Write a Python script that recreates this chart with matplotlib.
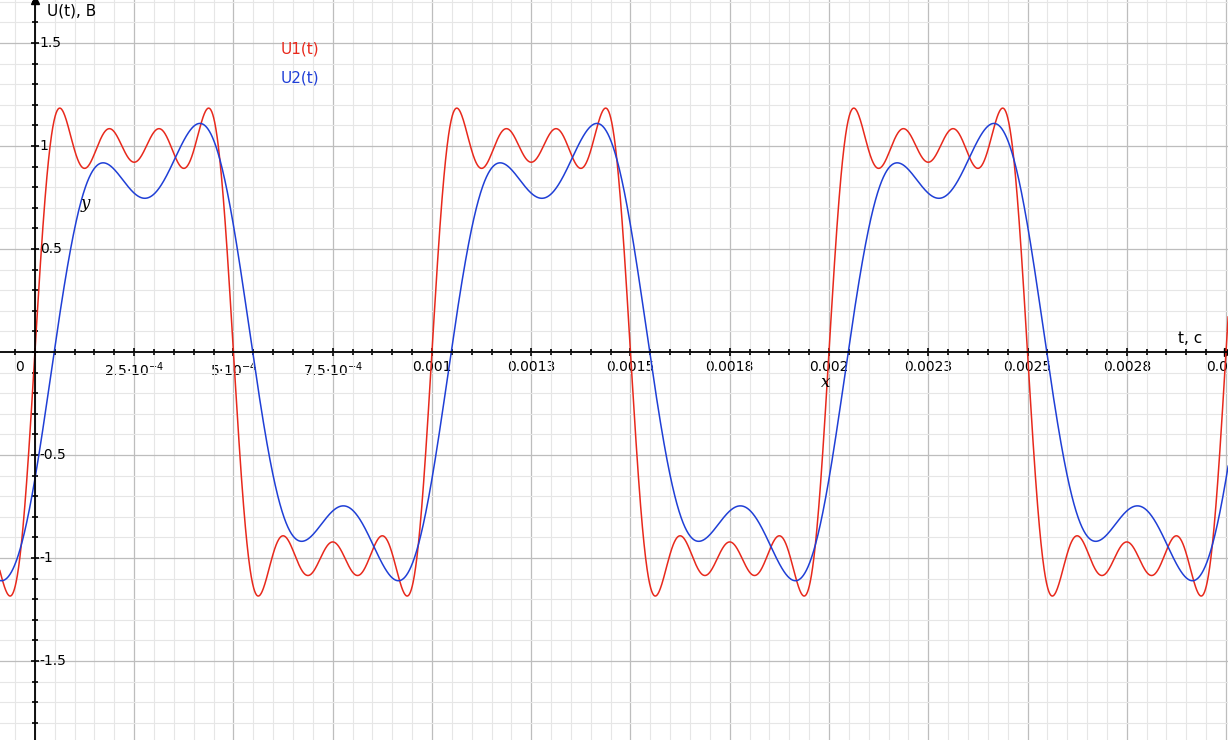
import numpy as np
import matplotlib.pyplot as plt

# signal: f = 1 kHz, Fourier harmonics
freq = 1000.0
u1_orders = [1, 3, 5, 7]
u1_amps = [4 / np.pi, 4 / (3 * np.pi), 4 / (5 * np.pi), 4 / (7 * np.pi)]
u1_delays = [0.0, 0.0, 0.0, 0.0]
u2_orders = [1, 3]
u2_amps = [1.10, 0.34]
u2_delays = [0.058e-3, 0.038e-3]

x_ticks = [0, 2.5e-4, 5e-4, 7.5e-4, 1e-3, 1.25e-3, 1.5e-3, 1.75e-3, 2e-3, 2.25e-3, 2.5e-3, 2.75e-3, 3e-3]
x_labels = ["", r"2.5$\cdot$10$^{-4}$", r"5$\cdot$10$^{-4}$", r"7.5$\cdot$10$^{-4}$", "0.001", "0.0013",
            "0.0015", "0.0018", "0.002", "0.0023", "0.0025", "0.0028", "0.003"]
y_ticks = [-1.5, -1, -0.5, 0.5, 1, 1.5]
y_labels = ["-1.5", "-1", "-0.5", "0.5", "1", "1.5"]


def harmonic_sum(t, orders, amps, delays):
    s = np.zeros_like(t)
    for k, a, d in zip(orders, amps, delays):
        s += a * np.sin(2 * np.pi * k * freq * (t - d))
    return s


t = np.linspace(-0.09e-3, 3.01e-3, 4000)
u1 = harmonic_sum(t, u1_orders, u1_amps, u1_delays)
u2 = harmonic_sum(t, u2_orders, u2_amps, u2_delays)

fig = plt.figure(figsize=(12.28, 7.40), dpi=100)
ax = fig.add_axes([0, 0, 1, 1])
ax.set_xlim(-0.088e-3, 3.005e-3)
ax.set_ylim(-1.883, 1.709)

ax.set_xticks(np.arange(-0.05e-3, 3.01e-3, 0.05e-3), minor=True)
ax.set_yticks(np.arange(-1.8, 1.71, 0.1), minor=True)
ax.set_xticks(x_ticks)
ax.set_yticks(y_ticks)
ax.grid(which='minor', color='#e6e6e6', lw=0.8)
ax.grid(which='major', color='#bdbdbd', lw=0.9)
ax.set_axisbelow(True)

ax.spines['left'].set_position(('data', 0))
ax.spines['bottom'].set_position(('data', 0))
ax.spines['right'].set_visible(False)
ax.spines['top'].set_visible(False)
ax.spines['left'].set_linewidth(1.3)
ax.spines['bottom'].set_linewidth(1.3)
ax.tick_params(which='both', direction='inout', length=6, width=1.2, labelsize=10)
ax.tick_params(which='minor', length=5)
ax.tick_params(axis='x', pad=3)
ax.set_xticklabels(x_labels)
ax.set_yticklabels([])
for yv, lab in zip(y_ticks, y_labels):
    ax.text(0.012e-3, yv, lab, fontsize=10, ha='left', va='center')
ax.plot(1, 0, ">k", transform=ax.get_yaxis_transform(), clip_on=False, ms=6)
ax.plot(0, 1, "^k", transform=ax.get_xaxis_transform(), clip_on=False, ms=6)

ax.plot(t, u1, color='#e8291c', lw=1.1)
ax.plot(t, u2, color='#1f3fd6', lw=1.1)

ax.text(-0.04e-3, -0.04, "0", fontsize=10, va='top', ha='center')
ax.text(0.03e-3, 1.69, "U(t), B", fontsize=11, va='top')
ax.text(2.88e-3, 0.03, "t, c", fontsize=11, va='bottom')
ax.text(0.62e-3, 1.45, "U1(t)", color='#e8291c', fontsize=11)
ax.text(0.62e-3, 1.31, "U2(t)", color='#1f3fd6', fontsize=11)
ax.text(0.115e-3, 0.7, "y", fontsize=12, style='italic', family='DejaVu Serif')
ax.text(1.98e-3, -0.17, "x", fontsize=12, style='italic', family='DejaVu Serif')

fig.savefig("out.png")
